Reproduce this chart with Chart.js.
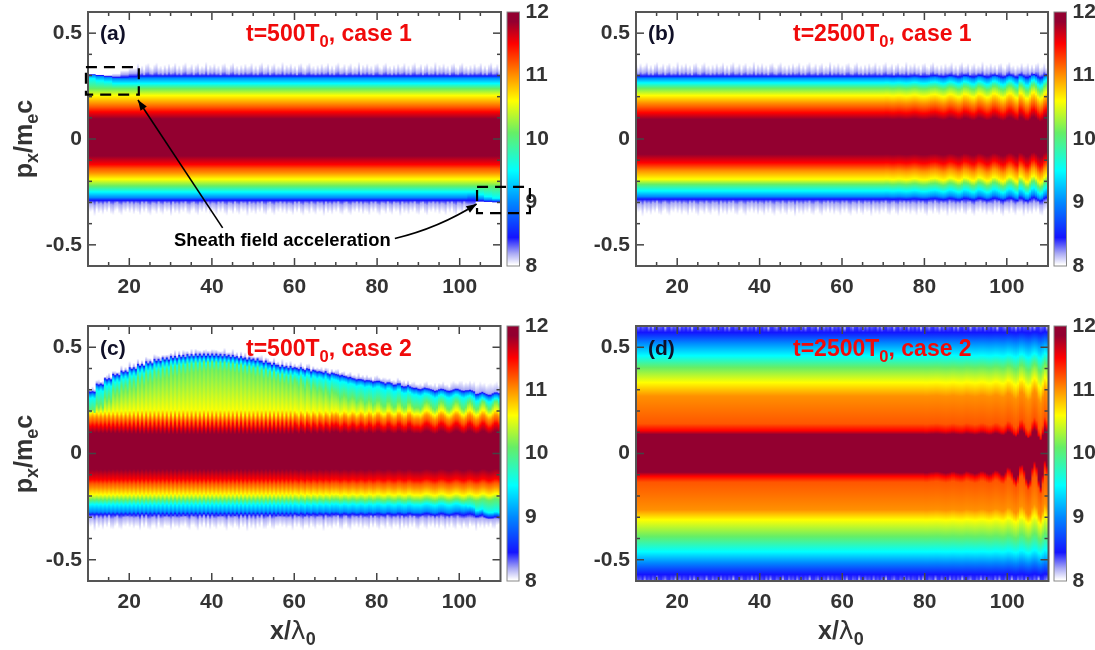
<!DOCTYPE html>
<html>
<head>
<meta charset="utf-8">
<script src="https://cdn.jsdelivr.net/npm/chart.js@4"></script>
<style>
  html, body { margin: 0; background: #fff; }
  body { position: relative; width: 1095px; height: 650px; overflow: hidden; font-family: "Liberation Sans", Arial, sans-serif; }
  canvas { position: absolute; filter: blur(0.45px); }
  .lbl { position: absolute; font-weight: bold; white-space: nowrap; line-height: 1; z-index: 5; }
  .lbl sub { font-size: .72em; line-height: 0; }
  .tag { font-size: 21px; color: #101028; }
  .time { font-size: 23px; color: #f00a0a; }
  .axis { font-size: 25px; color: #333; }
  .rot { transform: translate(-50%, -50%) rotate(-90deg); }
  .lam { font-weight: normal; font-family: "DejaVu Sans", sans-serif; }
</style>
</head>
<body>
<canvas id="barA"></canvas><canvas id="barB"></canvas><canvas id="barC"></canvas><canvas id="barD"></canvas>
<canvas id="panelA"></canvas><canvas id="panelB"></canvas><canvas id="panelC"></canvas><canvas id="panelD"></canvas>

<div class="lbl tag" style="left:100px;top:22px">(a)</div>
<div class="lbl tag" style="left:648px;top:22px">(b)</div>
<div class="lbl tag" style="left:100px;top:337px">(c)</div>
<div class="lbl tag" style="left:648px;top:337px">(d)</div>
<div class="lbl time" style="left:246px;top:22px">t=500T<sub>0</sub>, case 1</div>
<div class="lbl time" style="left:793px;top:22px">t=2500T<sub>0</sub>, case 1</div>
<div class="lbl time" style="left:246px;top:337px">t=500T<sub>0</sub>, case 2</div>
<div class="lbl time" style="left:793px;top:337px">t=2500T<sub>0</sub>, case 2</div>
<div class="lbl axis rot" style="left:23px;top:139px">p<sub>x</sub>/m<sub>e</sub>c</div>
<div class="lbl axis rot" style="left:23px;top:454px">p<sub>x</sub>/m<sub>e</sub>c</div>
<div class="lbl axis" style="left:270px;top:618px">x/<span class="lam">λ</span><sub>0</sub></div>
<div class="lbl axis" style="left:818px;top:618px">x/<span class="lam">λ</span><sub>0</sub></div>
<div class="lbl" style="left:174px;top:231px;font-size:18.4px;color:#000">Sheath field acceleration</div>

<script>
// axis ticks
const xMajorTicks = [20, 40, 60, 80, 100];
const xMinorTicks = [15, 25, 30, 35, 45, 50, 55, 65, 70, 75, 85, 90, 95, 105];
const yMajorTicks = [-0.5, 0, 0.5];
const yMinorTicks = [-0.4, -0.3, -0.2, -0.1, 0.1, 0.2, 0.3, 0.4];
const barTicks = [8, 9, 10, 11, 12];

// colour scale : log10 density level and its colour on the colour bar
const levels = [8.02, 8.2, 8.45, 9, 9.5, 10.1, 10.6, 11, 11.2, 11.5, 11.85];
const levelColors = ["#ffffff", "#a8a8f4", "#1414ff", "#0088ff", "#00ffff", "#66ee66", "#ffff00", "#ff9000", "#ff5600", "#ff0000", "#930030"];

// px/mec where each level is reached, above (Up) and below (Lo) the bulk
const aUp = [0.345, 0.312, 0.298, 0.288, 0.262, 0.238, 0.205, 0.168, 0.15, 0.128, 0.095];
const aLo = [-0.345, -0.305, -0.29, -0.277, -0.25, -0.222, -0.19, -0.16, -0.14, -0.12, -0.08];
const bUp = [0.347, 0.312, 0.297, 0.287, 0.265, 0.24, 0.205, 0.17, 0.15, 0.124, 0.093];
const bLo = [-0.347, -0.303, -0.285, -0.272, -0.245, -0.214, -0.19, -0.15, -0.135, -0.112, -0.072];
const cUp = [0.33, 0.31, 0.29, 0.28, 0.27, 0.23, 0.192, 0.169, 0.15, 0.13, 0.098];
const cLo = [-0.345, -0.302, -0.287, -0.275, -0.24, -0.218, -0.194, -0.162, -0.142, -0.123, -0.076];
const dUp = [0.75, 0.63, 0.57, 0.52, 0.46, 0.405, 0.334, 0.27, 0.14, 0.108, 0.09];
const dLo = [-0.75, -0.63, -0.57, -0.515, -0.462, -0.39, -0.312, -0.265, -0.135, -0.107, -0.088];

// panel (c) upper edge and green contour, x = 10, 12, ... 110
const cEdge = [0.295,0.33,0.355,0.375,0.39,0.405,0.42,0.432,0.443,0.45,0.457,0.462,0.466,0.468,0.468,0.468,0.466,0.462,0.456,0.45,0.445,0.435,0.425,0.415,0.41,0.405,0.4,0.393,0.387,0.38,0.374,0.365,0.355,0.35,0.345,0.342,0.335,0.33,0.322,0.315,0.31,0.306,0.303,0.303,0.303,0.303,0.298,0.288,0.284,0.286,0.29];
const cGreen = [0.2,0.225,0.255,0.285,0.305,0.32,0.338,0.352,0.365,0.375,0.385,0.392,0.4,0.405,0.41,0.41,0.408,0.402,0.396,0.39,0.382,0.372,0.362,0.35,0.34,0.33,0.318,0.305,0.293,0.282,0.27,0.262,0.253,0.246,0.24,0.235,0.232,0.23,0.228,0.226,0.225,0.225,0.225,0.225,0.225,0.225,0.225,0.225,0.225,0.225,0.225];
const cFringe = [0.012,0.012,0.012,0.012,0.014,0.014,0.014,0.014,0.016,0.016,0.016,0.016,0.016,0.018,0.018,0.02,0.018,0.016,0.016,0.014,0.014,0.014,0.014,0.014,0.014,0.014,0.014,0.014,0.014,0.014,0.014,0.014,0.016,0.016,0.016,0.016,0.016,0.018,0.018,0.018,0.02,0.022,0.024,0.026,0.03,0.034,0.038,0.042,0.044,0.044,0.044];
// panel (a) wedges, left top x = 10..20, right bottom x = 102..108
const aWedgeTop = [
  [0.308, 0.305, 0.305, 0.31, 0.325, 0.335],
  [0.306, 0.302, 0.298, 0.298, 0.305, 0.31],
  [0.304, 0.3, 0.295, 0.29, 0.292, 0.295],
  [0.3, 0.295, 0.29, 0.285, 0.284, 0.284],
  [0.285, 0.275, 0.27, 0.262, 0.262, 0.262]
];
const aWedgeBottom = [
  [-0.33, -0.3, -0.3, -0.3],
  [-0.31, -0.298, -0.298, -0.3],
  [-0.29, -0.292, -0.295, -0.297],
  [-0.272, -0.282, -0.288, -0.29],
  [-0.25, -0.262, -0.272, -0.28]
];
// panel (c) wedge, right bottom x = 100..108
const cWedgeBottom = [
  [-0.305, -0.305, -0.305, -0.308, -0.31],
  [-0.287, -0.288, -0.293, -0.3, -0.302],
  [-0.27, -0.272, -0.28, -0.287, -0.29],
  [-0.24, -0.25, -0.265, -0.275, -0.278]
];

// vertical wobble of the contours (in 0.001 px/mec), one value each 0.5 of x
const bWave = [0,1,1,0,-1,-1,0,1,1,0, -1,-2,-1,0,2,3,2,0,-2,-3, -3,-2,0,3,4,5,3,0,-3,-5, -3,2,6,5,2,-2,-6,-6,-1,7, 6,3,-2,-6,-7,0,8,7,3,-3, -8,-7,-1,8,9,5,-1,-7,-10,-6, 5,11,9,1,-8,-12,12,10,0,-12, -14,-3,12,15,6,-8,-16,-10,8,16];
const cWave = [
  3,-3,4,-4,5,-5,5,-6,6,-6,7,-7,7,-8,8,-8,8,-9,9,-9,
  10,-10,10,-11,11,-11,11,-12,12,-12,12,-12,12,-11,12,-12,13,-12,12,-13,
  12,-12,13,-13,12,-12,13,-13,12,-13,13,-12,13,-13,12,-12,13,-13,12,-12,
  13,-12,12,-13,13,-13,12,-12,13,-12,12,-13,13,-12,13,-13,12,-13,12,-12,
  12,-13,13,-12,12,-13,13,-12,13,-12,12,-13,12,-12,13,-13,12,-12,13,-12,
  11,2,-11,11,2,-11,10,2,-10,10,2,-10,9,2,-9,9,2,-9,9,2,
  8,3,-8,-3,8,3,-8,-3,8,3,-8,-3,8,3,-8,-3,8,3,-8,-3,
  8,8,-2,-8,-6,8,8,-2,-8,-6,8,8,-2,-8,-6,8,9,-2,-8,-6,
  -6,-10,-2,8,12,8,0,-8,-12,-6,6,12,9,0,-9,-12,-6,4,12,11,
  2,-8,-12,-5,8,12,5,-6,-12,-9,2,12,10,-2,-11,-10,0,11,12,3
];
const dWave = [-1,-1,0,1,1,2,2,1,0,-1, -2,-1,0,2,2,0,-1,-2,-2,0, 3,2,0,-1,-3,-2,0,3,3,1, -2,-4,-3,1,5,4,0,-5,-6,1, 12,10,2,-10,-16,-6,16,18,6,-14, -24,-16,12,26,14,-18,-34,-6,28,16];
// short run of edge roughness read along the speckled fringes
const fringeRough = [0.006,-0.008,0.012,-0.004,0.002,0.016,-0.01,0.004,-0.012,0.009,0.018,-0.006,-0.002,0.011,-0.013,0.005,0.014,-0.009,0.001,-0.005,0.02,-0.011,0.007,-0.003,0.013,-0.007,0.003,-0.014,0.01,0.015,-0.004,-0.01,0.008,0.017,-0.006,0.002,-0.012];

// how strongly each contour follows the wobble
const bWeights = [0.2, 0.3, 0.5, 0.7, 0.9, 1, 1, 1, 1, 1, 0.7];
const cWeightsUp = [0.4, 0.4, 0.4, 0.5, 0.7, 1.6, 1, 1, 1, 1, 0.6];
const cWeightsLo = [0.2, 0.2, 0.3, 0.3, 0.35, 0.35, 0.35, 0.35, 0.35, 0.35, 0.35];
const dWeightsUp = [0, 0, 0.1, 0.2, 0.4, 0.6, 0.8, 1, 1.2, 1.2, 0.8];
const dWeightsLo = [0, 0, 0.1, 0.2, 0.3, 0.5, 0.7, 1, 1.6, 2, 2];

// annotations of panel (a), in axis units
const boxLeft = { x: [9.5, 22.3], y: [0.21, 0.34] };
const boxRight = { x: [104.2, 117], y: [-0.35, -0.226] };
const arrowOne = { from: [42.6, -0.42], to: [22.1, 0.184] };
const arrowTwo = { from: [84.3, -0.47], bend: [95, -0.42], to: [104.1, -0.307] };

// chart areas on the page : left, right, top, bottom
const panelBoxes = {
  A: [88, 501, 12, 266], B: [636, 1048, 12, 266],
  C: [87.5, 500, 326, 581], D: [635.5, 1048, 326, 581]
};
const barBoxes = {
  A: [507, 519.5, 12, 266], B: [1054, 1066.5, 12, 266],
  C: [507, 519, 326, 581], D: [1054, 1066.5, 326, 581]
};

const columnX = [];
for (let i = 0; i < 200; i++) columnX.push(10.25 + i * 0.5);

// replace a contour in the columns of a station list
function lookup(values, from, step, x) {
  const k = Math.floor((x - from) / step);
  return k >= 0 && k < values.length ? values[k] : null;
}

function profiles(name, x, i) {
  let up, lo;
  const rough = fringeRough[i % fringeRough.length];
  const rough2 = fringeRough[(i + 17) % fringeRough.length];
  if (name == "A") {
    up = aUp.slice(); lo = aLo.slice();
    up[0] += rough; up[1] += rough * 0.5; lo[0] -= rough2; lo[1] -= rough2 * 0.5;
    aWedgeTop.forEach((row, k) => {
      const v = lookup(row, 10, 2, x);
      if (v !== null) up[k] = v;
    });
    aWedgeBottom.forEach((row, k) => {
      const v = lookup(row, 102, 2, x);
      if (v !== null) lo[k] = v;
    });
  }
  if (name == "B") {
    up = bUp.slice(); lo = bLo.slice();
    up[0] += rough; up[1] += rough * 0.5; lo[0] -= rough2; lo[1] -= rough2 * 0.5;
    if (x >= 70) {
      const s = bWave[Math.floor((x - 70) * 2)] / 1000;
      bWeights.forEach((w, k) => { up[k] += s * w; lo[k] += s * w; });
    }
  }
  if (name == "C") {
    up = cUp.slice(); lo = cLo.slice();
    const edge = lookup(cEdge, 10, 2, x);
    up[2] = edge - 0.006;
    up[1] = edge;
    up[0] = edge + lookup(cFringe, 10, 2, x) + rough * 0.6;
    up[3] = edge - 0.016;
    up[4] = edge - 0.034;
    up[5] = lookup(cGreen, 10, 2, x);
    lo[0] -= rough2; lo[1] -= rough2 * 0.5;
    cWedgeBottom.forEach((row, k) => {
      const v = lookup(row, 100, 2, x);
      if (v !== null) lo[k + 1] = v;
    });
    const s = cWave[i] / 1000;
    cWeightsUp.forEach((w, k) => { up[k] += s * w; });
    cWeightsLo.forEach((w, k) => { lo[k] += s * w; });
  }
  if (name == "D") {
    up = dUp.slice(); lo = dLo.slice();
    up[1] += rough * 3; lo[1] -= rough2 * 3;
    if (x >= 80) {
      const s = dWave[Math.floor((x - 80) * 2)] / 1000;
      dWeightsUp.forEach((w, k) => { up[k] += s * w; });
      dWeightsLo.forEach((w, k) => { lo[k] += s * w; });
    }
  }
  return { up, lo };
}

function columnGradient(context, name) {
  const chart = context.chart;
  const yScale = chart.scales.y;
  if (!yScale || !chart.chartArea) return "#fff";
  const x = columnX[context.dataIndex];
  const p = profiles(name, x, context.dataIndex);
  const top = yScale.getPixelForValue(0.8);
  const bottom = yScale.getPixelForValue(-0.8);
  const grad = chart.ctx.createLinearGradient(0, top, 0, bottom);
  let last = 0;
  const put = (pos, color) => {
    const off = Math.min(1, Math.max(last, (yScale.getPixelForValue(pos) - top) / (bottom - top)));
    grad.addColorStop(off, color);
    last = off;
  };
  for (let k = 0; k < levels.length; k++) put(p.up[k], levelColors[k]);
  for (let k = levels.length - 1; k >= 0; k--) put(p.lo[k], levelColors[k]);
  return grad;
}

const tickFont = { family: "'Liberation Sans', Arial, sans-serif", size: 21, weight: "bold" };

const framePlugin = {
  id: "frame",
  afterDatasetsDraw(chart, args, opts) {
    const { ctx, chartArea: a, scales } = chart;
    ctx.save();
    ctx.strokeStyle = "#444";
    ctx.lineWidth = 1.5;
    const mark = (x1, y1, x2, y2) => { ctx.beginPath(); ctx.moveTo(x1, y1); ctx.lineTo(x2, y2); ctx.stroke(); };
    xMajorTicks.concat(xMinorTicks).forEach(v => {
      const len = xMajorTicks.includes(v) ? 8 : 4;
      const px = scales.x.getPixelForValue(v);
      mark(px, a.bottom, px, a.bottom - len);
      mark(px, a.top, px, a.top + len);
    });
    yMajorTicks.concat(yMinorTicks).forEach(v => {
      const len = yMajorTicks.includes(v) ? 8 : 4;
      const py = scales.y.getPixelForValue(v);
      mark(a.left, py, a.left + len, py);
      mark(a.right, py, a.right - len, py);
    });
    ctx.strokeStyle = "#555";
    ctx.lineWidth = 2;
    ctx.strokeRect(a.left, a.top, a.right - a.left, a.bottom - a.top);
    ctx.restore();
  }
};

const sheathPlugin = {
  id: "sheath",
  afterDraw(chart) {
    const { ctx, scales } = chart;
    const px = v => scales.x.getPixelForValue(v);
    const py = v => scales.y.getPixelForValue(v);
    ctx.save();
    ctx.strokeStyle = "#000";
    ctx.fillStyle = "#000";
    ctx.lineWidth = 2.2;
    ctx.setLineDash([11, 7]);
    [boxLeft, boxRight].forEach(b => {
      ctx.strokeRect(px(b.x[0]), py(b.y[1]), px(b.x[1]) - px(b.x[0]), py(b.y[0]) - py(b.y[1]));
    });
    ctx.setLineDash([]);
    ctx.lineWidth = 1.6;
    const head = (fx, fy, tx, ty) => {
      const ang = Math.atan2(ty - fy, tx - fx);
      ctx.beginPath();
      ctx.moveTo(tx, ty);
      ctx.lineTo(tx - 11 * Math.cos(ang - 0.35), ty - 11 * Math.sin(ang - 0.35));
      ctx.lineTo(tx - 11 * Math.cos(ang + 0.35), ty - 11 * Math.sin(ang + 0.35));
      ctx.closePath();
      ctx.fill();
    };
    ctx.beginPath();
    ctx.moveTo(px(arrowOne.from[0]), py(arrowOne.from[1]));
    ctx.lineTo(px(arrowOne.to[0]), py(arrowOne.to[1]));
    ctx.stroke();
    head(px(arrowOne.from[0]), py(arrowOne.from[1]), px(arrowOne.to[0]), py(arrowOne.to[1]));
    ctx.beginPath();
    ctx.moveTo(px(arrowTwo.from[0]), py(arrowTwo.from[1]));
    ctx.quadraticCurveTo(px(arrowTwo.bend[0]), py(arrowTwo.bend[1]), px(arrowTwo.to[0]), py(arrowTwo.to[1]));
    ctx.stroke();
    head(px(arrowTwo.bend[0]), py(arrowTwo.bend[1]), px(arrowTwo.to[0]), py(arrowTwo.to[1]));
    ctx.restore();
  }
};

// labels may hang over the chart area, keep the area where it was measured
function noPadding(axis) {
  axis.paddingTop = 0;
  axis.paddingBottom = 0;
  axis.paddingLeft = 0;
  axis.paddingRight = 0;
}

function makePanel(name) {
  const [left, right, top, bottom] = panelBoxes[name];
  const canvas = document.getElementById("panel" + name);
  const w = right - left + 88 + 42, h = bottom - top + 12 + 40;
  canvas.width = Math.ceil(w);
  canvas.height = h;
  canvas.style.left = (left - 88) + "px";
  canvas.style.top = (top - 12) + "px";
  new Chart(canvas, {
    type: "bar",
    data: {
      datasets: [{
        data: columnX.map(x => ({ x: x, y: [-0.6, 0.6] })),
        backgroundColor: c => columnGradient(c, name),
        barPercentage: 1,
        categoryPercentage: 1,
        inflateAmount: 0.6,
        borderWidth: 0
      }]
    },
    options: {
      responsive: false,
      animation: false,
      events: [],
      layout: { padding: { top: 12, right: Math.ceil(w) - 88 - (right - left), left: 0, bottom: 0 } },
      plugins: { legend: { display: false }, tooltip: { enabled: false } },
      scales: {
        x: {
          type: "linear", min: 10, max: 110, offset: false,
          grid: { display: false, drawTicks: false }, border: { display: false },
          afterBuildTicks: axis => { axis.ticks = xMajorTicks.map(v => ({ value: v })); },
          afterFit: axis => { axis.height = 40; noPadding(axis); },
          ticks: { color: "#333", font: tickFont, padding: 9, autoSkip: false, maxRotation: 0 }
        },
        y: {
          type: "linear", min: -0.6, max: 0.6,
          grid: { display: false, drawTicks: false }, border: { display: false },
          afterBuildTicks: axis => { axis.ticks = yMajorTicks.map(v => ({ value: v })); },
          afterFit: axis => { axis.width = 88; noPadding(axis); },
          ticks: { color: "#333", font: tickFont, padding: 6, autoSkip: false, callback: v => String(v) }
        }
      }
    },
    plugins: name == "A" ? [framePlugin, sheathPlugin] : [framePlugin]
  });
}

function barGradient(context) {
  const chart = context.chart;
  const yScale = chart.scales.y;
  if (!yScale || !chart.chartArea) return "#fff";
  const top = yScale.getPixelForValue(12), bottom = yScale.getPixelForValue(8);
  const grad = chart.ctx.createLinearGradient(0, top, 0, bottom);
  grad.addColorStop(0, levelColors[levelColors.length - 1]);
  for (let k = levels.length - 1; k >= 0; k--) {
    grad.addColorStop((yScale.getPixelForValue(levels[k]) - top) / (bottom - top), levelColors[k]);
  }
  return grad;
}

const barFrame = {
  id: "barFrame",
  afterDatasetsDraw(chart) {
    const { ctx, chartArea: a } = chart;
    ctx.save();
    ctx.strokeStyle = "#888";
    ctx.lineWidth = 1;
    ctx.strokeRect(a.left, a.top, a.right - a.left, a.bottom - a.top);
    ctx.restore();
  }
};

function makeBar(name) {
  const [left, right, top, bottom] = barBoxes[name];
  const canvas = document.getElementById("bar" + name);
  const w = right - left + 2 + 40;
  canvas.width = Math.ceil(w);
  canvas.height = bottom - top + 12 + 14;
  canvas.style.left = (left - 2) + "px";
  canvas.style.top = (top - 12) + "px";
  new Chart(canvas, {
    type: "bar",
    data: {
      labels: ["density"],
      datasets: [{ data: [[8, 12]], backgroundColor: barGradient, barPercentage: 1, categoryPercentage: 1, borderWidth: 0 }]
    },
    options: {
      responsive: false,
      animation: false,
      events: [],
      layout: { padding: { top: 12, left: 2, right: Math.ceil(w) - 2 - (right - left) - 40, bottom: 14 } },
      plugins: { legend: { display: false }, tooltip: { enabled: false } },
      scales: {
        x: { display: false },
        y: {
          position: "right", min: 8, max: 12,
          grid: { display: false, drawTicks: false }, border: { display: false },
          afterBuildTicks: axis => { axis.ticks = barTicks.map(v => ({ value: v })); },
          afterFit: axis => { axis.width = 40; noPadding(axis); },
          ticks: { color: "#333", font: tickFont, padding: 6, autoSkip: false }
        }
      }
    },
    plugins: [barFrame]
  });
}

["A", "B", "C", "D"].forEach(makeBar);
["A", "B", "C", "D"].forEach(makePanel);
</script>
</body>
</html>
